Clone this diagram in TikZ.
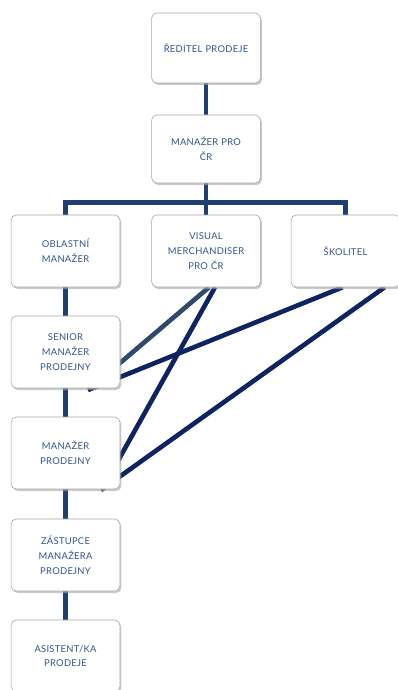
\documentclass[tikz,border=0pt]{standalone}
\usepackage{fontspec}
\setmainfont[LetterSpace=3]{Lato}
\usetikzlibrary{shadows,calc}
\pgfdeclarelayer{background}
\pgfsetlayers{background,main}
\definecolor{navy}{HTML}{0C2461}
\definecolor{slate}{HTML}{2E4A6C}
\definecolor{vbar}{HTML}{1F3F70}
\definecolor{txt}{HTML}{34558A}
\definecolor{bord}{HTML}{A8A8A8}
\tikzset{
  box/.style={draw=bord, line width=0.6pt, fill=white, rounded corners=5pt,
    minimum width=107pt, minimum height=72pt, align=center, text width=102pt,
    font=\fontsize{9.4}{14.8}\selectfont, text=txt,
    drop shadow={shadow xshift=1.5pt, shadow yshift=-2pt, fill=black!35, opacity=0.6}},
  tree/.style={draw=vbar, line width=4.5pt},
  diag/.style={line width=4.5pt},
  diagshadow/.style={draw=black!40, line width=4.5pt}
}
\begin{document}
\begin{tikzpicture}[x=1pt,y=1pt]
\useasboundingbox (0,0) rectangle (398,-690);
\node[box, minimum height=70pt] (red) at (206,-48) {ŘEDITEL PRODEJE};
\node[box, minimum height=68pt] (mcr) at (206,-149) {MANAŽER PRO\\ČR};
\node[box] (obl) at (65.5,-251) {OBLASTNÍ\\MANAŽER};
\node[box] (vis) at (206,-251) {VISUAL\\MERCHANDISER\\PRO ČR};
\node[box, minimum width=105pt] (sko) at (345.5,-251) {ŠKOLITEL};
\node[box] (sen) at (65.5,-352) {SENIOR\\MANAŽER\\PRODEJNY};
\node[box] (mpr) at (65.5,-453) {MANAŽER\\PRODEJNY};
\node[box] (zas) at (65.5,-555) {ZÁSTUPCE\\MANAŽERA\\PRODEJNY};
\node[box] (asi) at (65.5,-656) {ASISTENT/KA\\PRODEJE};
\coordinate (eA) at (100,-380);
\coordinate (eB) at (105,-484);
\coordinate (eC) at (88,-390);
\coordinate (eD) at (101,-490);
\begin{pgfonlayer}{background}
  \draw[tree] (red.south) -- (mcr.north);
  \draw[tree] (mcr.south) -- ++(0,-19) coordinate (bar);
  \draw[tree] (obl.north) |- (bar) -| (sko.north);
  \draw[tree] (bar) -- (vis.north);
  \draw[tree] (obl.south) -- (sen.north);
  \draw[tree] (sen.south) -- (mpr.north);
  \draw[tree] (mpr.south) -- (zas.north);
  \draw[tree] (zas.south) -- (asi.north);
  \begin{scope}[shift={(2,-2.5)}]
    \draw[diagshadow] ($(vis.south)+(3,0)$) -- (eA);
    \draw[diagshadow] ($(vis.south)+(9,0)$) -- (eB);
    \draw[diagshadow] ($(sko.south)+(-3,0)$) -- (eC);
    \draw[diagshadow] ($(sko.south)+(39,0)$) -- (eD);
  \end{scope}
  \draw[diag, slate] ($(vis.south)+(3,0)$) -- (eA);
  \draw[diag, navy] ($(vis.south)+(9,0)$) -- (eB);
  \draw[diag, navy] ($(sko.south)+(-3,0)$) -- (eC);
  \draw[diag, navy] ($(sko.south)+(39,0)$) -- (eD);
\end{pgfonlayer}
\end{tikzpicture}
\end{document}
